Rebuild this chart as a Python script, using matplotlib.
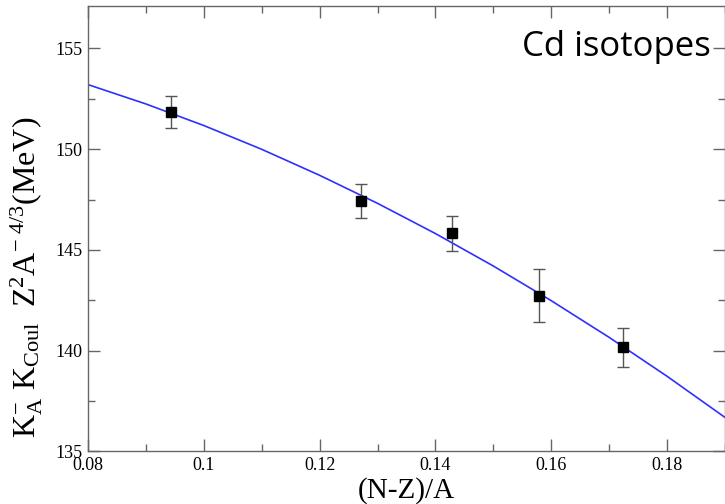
import matplotlib
matplotlib.use('Agg')
import matplotlib.pyplot as plt
from matplotlib.ticker import MultipleLocator

# measured points (Cd isotopes)
asym = [0.0944, 0.1272, 0.1428, 0.1578, 0.1723]
k_val = [151.85, 147.42, 145.82, 142.72, 140.17]
k_err = [0.80, 0.83, 0.86, 1.32, 0.97]

# fit curve
fit_x = [0.08, 0.09, 0.10, 0.11, 0.12, 0.13, 0.14, 0.15, 0.16, 0.17, 0.18, 0.19]
fit_y = [153.20, 152.24, 151.17, 149.99, 148.70, 147.31, 145.81, 144.20, 142.48, 140.66, 138.73, 136.69]

plt.rcParams['font.family'] = 'Liberation Serif'
plt.rcParams['mathtext.fontset'] = 'custom'
plt.rcParams['mathtext.rm'] = 'Liberation Serif'
plt.rcParams['mathtext.it'] = 'Liberation Serif:italic'

fig = plt.figure(figsize=(7.25, 5.04), dpi=100)
ax = fig.add_axes([0.1214, 0.1042, 0.8786, 0.8839])

ax.plot(fit_x, fit_y, color='#2f2fff', lw=1.2, zorder=2)
ax.errorbar(asym, k_val, yerr=k_err, fmt='s', color='black', ms=6.5,
            ecolor='#555555', elinewidth=1.0, capsize=4.5, capthick=1.0, zorder=3)

ax.set_xlim(0.08, 0.19)
ax.set_ylim(135, 157.1)
ax.xaxis.set_major_locator(MultipleLocator(0.02))
ax.xaxis.set_minor_locator(MultipleLocator(0.01))
ax.yaxis.set_major_locator(MultipleLocator(5))
ax.yaxis.set_minor_locator(MultipleLocator(2.5))
ax.set_xticks([0.08, 0.10, 0.12, 0.14, 0.16, 0.18])
ax.set_xticklabels(['0.08', '0.1', '0.12', '0.14', '0.16', '0.18'])

ax.tick_params(which='both', direction='in', top=True, right=True,
               color='#666666', labelsize=13, width=1.0)
ax.tick_params(which='major', length=8.5, pad=4)
ax.tick_params(which='minor', length=5)
for s in ax.spines.values():
    s.set_color('#666666')
    s.set_linewidth(1.0)

ax.set_xlabel('(N-Z)/A', fontsize=21, labelpad=2)
ax.set_ylabel(r'$\mathrm{K_{A}^{-}\ K_{Coul}\ \ Z^{2}A^{-\ 4/3}}$(MeV)', fontsize=23)
ax.yaxis.set_label_coords(-0.068, 0.39)

ax.text(0.83, 0.908, 'Cd isotopes', transform=ax.transAxes, fontsize=25,
        family='Open Sans', ha='center', va='center')

fig.savefig('out.png', dpi=100)
